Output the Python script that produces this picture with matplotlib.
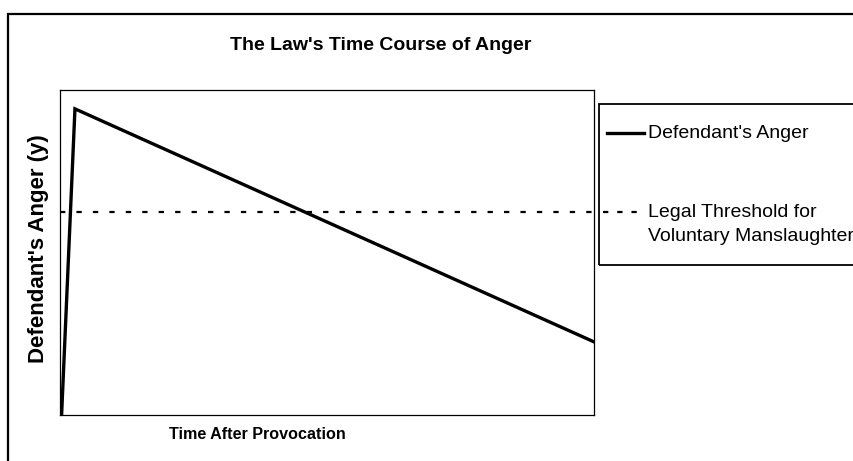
import matplotlib
matplotlib.use("Agg")
import matplotlib.pyplot as plt
from matplotlib.patches import Rectangle
from matplotlib.lines import Line2D

plt.rcParams['font.family'] = ['Liberation Sans', 'DejaVu Sans']

# Data
time = [0.3, 2.8, 100.0]
anger = [0.0, 94.2, 22.5]
threshold = 62.5
title = "The Law's Time Course of Anger"
xlabel = "Time After Provocation"
ylabel = "Defendant's Anger (y)"
series_labels = ["Defendant's Anger", "Legal Threshold for\nVoluntary Manslaughter"]

W, H = 854, 461
fig = plt.figure(figsize=(W / 100, H / 100), dpi=100)
fig.patch.set_facecolor('white')

def fx(px):
    return px / W

def fy(py):
    return 1 - py / H

# outer frame (extends past right and bottom edges)
fig.patches.append(Rectangle((fx(8), fy(500)), fx(900) - fx(8), fy(14) - fy(500),
                             transform=fig.transFigure, fill=False,
                             edgecolor='black', linewidth=1.6))

ax = fig.add_axes([fx(60), fy(415), fx(594) - fx(60), fy(90) - fy(415)])
ax.plot(time, anger, color='black', linewidth=2.4, solid_joinstyle='miter')
ax.axhline(threshold, color='black', linewidth=1.6, dashes=(2.4, 5.0))
ax.set_xlim(0, 100)
ax.set_ylim(0, 100)
ax.set_xticks([])
ax.set_yticks([])
for s in ax.spines.values():
    s.set_linewidth(0.9)
    s.set_color('black')

fig.text(fx(381), fy(46), title, ha='center', va='center', fontsize=14, fontweight='bold')
fig.text(fx(257), fy(434), xlabel, ha='center', va='center', fontsize=11.6, fontweight='bold')
fig.text(fx(39), fy(249), ylabel, ha='center', va='center', rotation=90, fontsize=16, fontweight='bold')

# legend box (manual)
fig.patches.append(Rectangle((fx(599), fy(265)), fx(900) - fx(599), fy(104) - fy(265),
                             transform=fig.transFigure, fill=False,
                             edgecolor='black', linewidth=1.3))
fig.lines.append(Line2D([fx(607), fx(644)], [fy(133), fy(133)], transform=fig.transFigure,
                        color='black', linewidth=2.4))
fig.lines.append(Line2D([fx(603), fx(644)], [fy(212), fy(212)], transform=fig.transFigure,
                        color='black', linewidth=1.6, dashes=(2.4, 4.0)))
fig.text(fx(648), fy(133), series_labels[0], ha='left', va='center', fontsize=14)
fig.text(fx(648), fy(212), series_labels[1].split('\n')[0], ha='left', va='center', fontsize=14)
fig.text(fx(648), fy(236), series_labels[1].split('\n')[1], ha='left', va='center', fontsize=14)

fig.savefig('out.png', dpi=100)
